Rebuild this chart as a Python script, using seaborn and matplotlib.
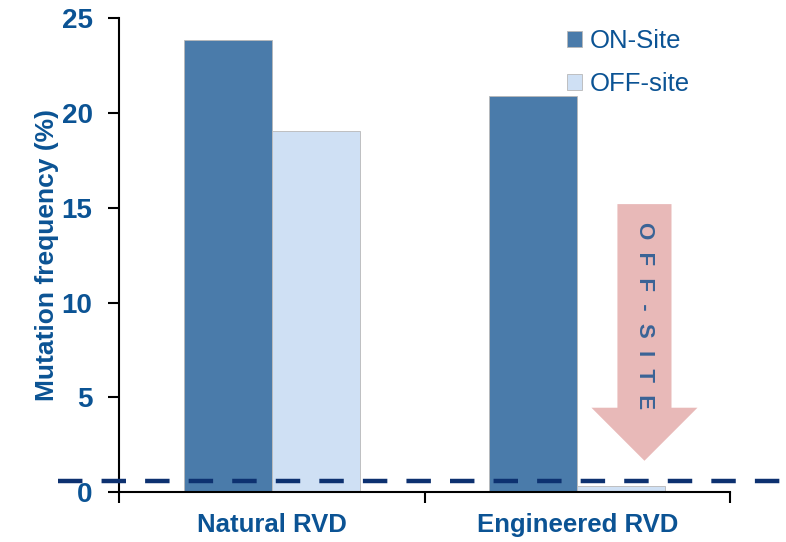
import matplotlib
matplotlib.use("Agg")
import matplotlib.pyplot as plt
from matplotlib.patches import FancyArrow
import seaborn as sns
import pandas as pd

# Data
constructs = ["Natural RVD", "Engineered RVD"]
site_types = ["ON-Site", "OFF-site"]
on_site = [23.85, 20.9]
off_site = [19.05, 0.3]
detection_limit = 0.6
y_ticks = [0, 5, 10, 15, 20, 25]

df = pd.DataFrame({
    "construct": constructs * 2,
    "site": [site_types[0]] * len(constructs) + [site_types[1]] * len(constructs),
    "freq": on_site + off_site,
})

sns.set_style("white")
plt.rcParams["font.family"] = ["Liberation Sans", "DejaVu Sans"]

text_blue = "#0B5394"
palette = {"ON-Site": "#4A7BAA", "OFF-site": "#CFE0F4"}

fig = plt.figure(figsize=(7.86, 5.42), dpi=100)
ax = fig.add_axes([119 / 786, 1 - 492 / 542, (730 - 119) / 786, (492 - 18.5) / 542])

sns.barplot(data=df, x="construct", y="freq", hue="site", order=constructs,
            hue_order=site_types, palette=palette, width=0.575, saturation=1,
            edgecolor="#B8B8B8", linewidth=0.6, ax=ax, legend=True)

ax.set_xlim(-0.5, 1.5)
ax.set_ylim(0, 25)
ax.set_yticks(y_ticks)
ax.set_xticks([-0.5, 0.5, 1.5], minor=False)
ax.set_xticklabels([])
ax.set_xticks([0, 1], minor=True)
ax.set_xticklabels(constructs, minor=True)
ax.tick_params(axis="x", which="minor", length=0, pad=15, labelsize=18.5,
               labelcolor=text_blue)
ax.tick_params(axis="x", which="major", direction="out", length=8, width=1.5,
               color="black", bottom=True)
ax.tick_params(axis="y", direction="out", length=8, width=1.5, color="black",
               left=True, labelsize=20, labelcolor=text_blue, pad=11)
for lab in ax.get_xticklabels(minor=True) + ax.get_yticklabels():
    lab.set_fontweight("bold")

for side in ["top", "right"]:
    ax.spines[side].set_visible(False)
for side in ["left", "bottom"]:
    ax.spines[side].set_color("black")
    ax.spines[side].set_linewidth(1.5)

ax.set_xlabel("")
ax.set_ylabel("Mutation frequency (%)", fontsize=19, fontweight="bold",
              color=text_blue, labelpad=2)

# Detection threshold line, running past both ends of the axes
ax.axhline(detection_limit, xmin=-0.1, xmax=1.1, color="#0D3170", lw=3.2,
           dashes=(5.5, 4.3), clip_on=False, zorder=5)

# Downward arrow marking the drop in off-site activity
arrow_x = 1.22
ax.add_patch(FancyArrow(arrow_x, 15.2, 0, -13.55, width=0.177, head_width=0.347,
                        head_length=2.8, length_includes_head=True,
                        color="#E8B9B8", lw=0, zorder=3))
ax.text(arrow_x, 9.3, "O  F  F  -  S  I  T  E", rotation=270, ha="center",
        va="center", fontsize=16, fontweight="bold", color="#3A6396", zorder=4)

leg = ax.legend(loc="center left", bbox_to_anchor=(0.716, 0.907), frameon=False,
                fontsize=18.5, handlelength=0.6, handleheight=0.6,
                handletextpad=0.3, labelspacing=0.75, borderaxespad=0)
for t in leg.get_texts():
    t.set_color(text_blue)

fig.savefig("out.png", dpi=100)
